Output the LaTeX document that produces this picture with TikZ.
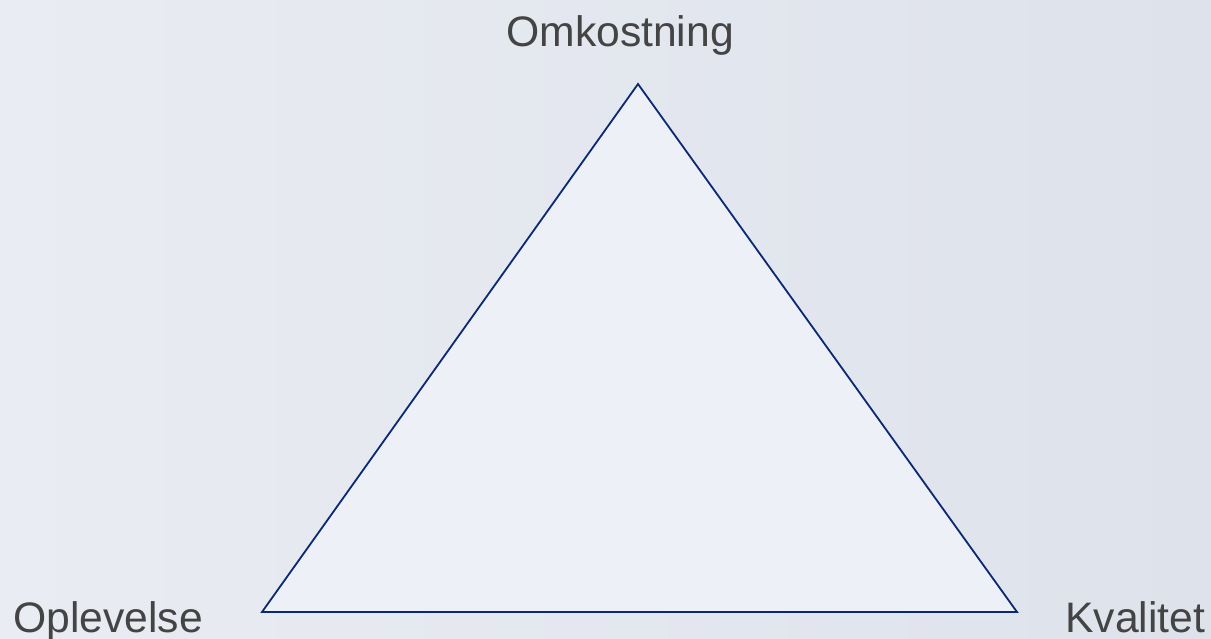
\documentclass[tikz,border=0pt]{standalone}
\usepackage{fontspec}
\setmainfont{Liberation Sans}
\usetikzlibrary{positioning}
\definecolor{bgleft}{RGB}{233,236,242}
\definecolor{bgright}{RGB}{222,226,235}
\definecolor{trifill}{RGB}{237,240,246}
\definecolor{triline}{RGB}{10,40,115}
\definecolor{labelgrey}{RGB}{68,68,68}
\tikzset{
  % Base styles
  diagram base/.style={
    x=0.75pt, y=-0.75pt,
    every node/.style={font=\fontsize{32}{36}\selectfont, text=labelgrey, inner sep=0pt},
  },
  % Triangle
  tri edge/.style={draw=triline, line width=1.35pt, fill=trifill, line join=miter},
  corner label/.style={anchor=base west},
}

\begin{document}
\begin{tikzpicture}[diagram base]
% Background
\shade[left color=bgleft, right color=bgright] (0,0) rectangle (1211,639);
\useasboundingbox (0,0) rectangle (1211,639);

% Corners
\coordinate (top) at (638,84);
\coordinate (bl) at (262,612);
\coordinate (br) at (1017,612);

% Labels
\node[corner label] (cost) at (506,46) {Omkostning};
\node[corner label] (exp) at (13,632) {Oplevelse};
\node[corner label] (qual) at (1065,632) {Kvalitet};

% Triangle
\draw[tri edge] (top) -- (bl) -- (br) -- cycle;
\end{tikzpicture}
\end{document}
